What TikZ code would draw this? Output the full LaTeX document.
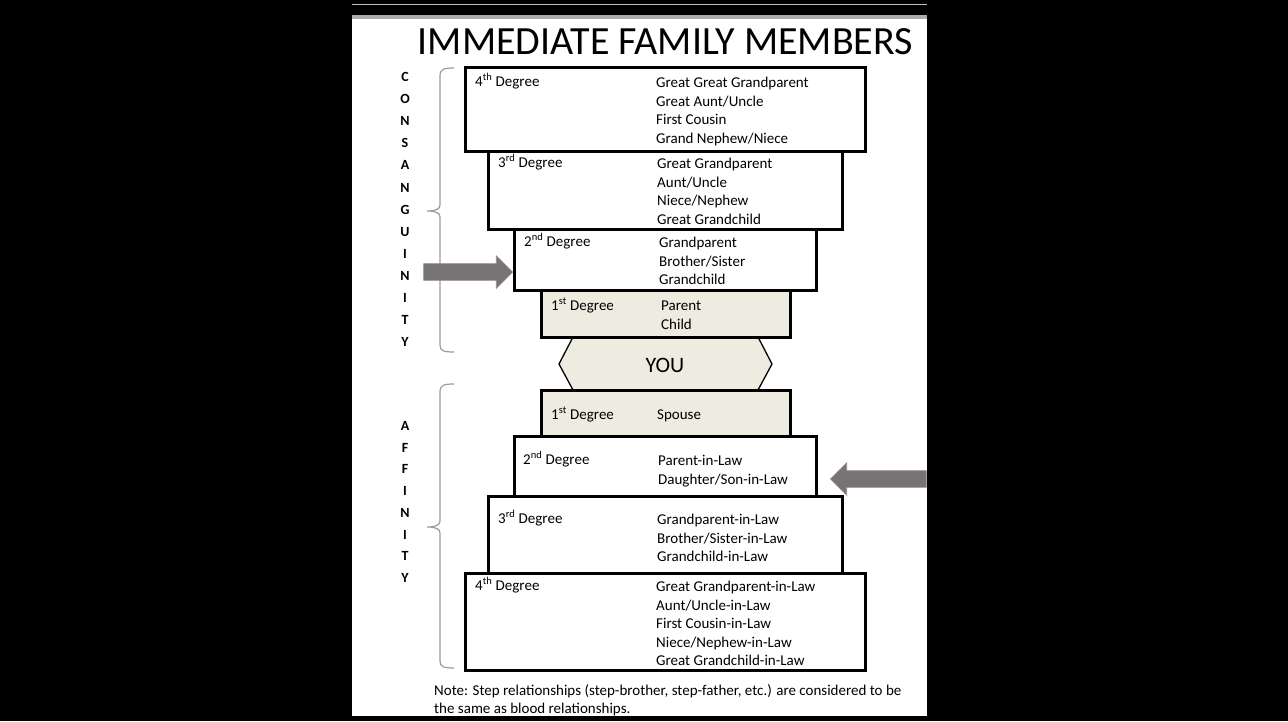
\documentclass[tikz,border=0pt]{standalone}
\usepackage{fontspec}
\setmainfont{Carlito}
\usetikzlibrary{shapes.arrows}

\definecolor{tan}{HTML}{EEECE1}
\definecolor{arrowgray}{HTML}{777373}
\definecolor{bracegray}{HTML}{9C9C9C}

\tikzset{
  deg/.style={draw, line width=3pt, inner sep=0pt},
  lbl/.style={anchor=base west, inner sep=0pt, font=\fontsize{15}{18.5}\selectfont},
  items/.style={anchor=north west, inner sep=0pt, align=left,
    font=\fontsize{15}{18.5}\selectfont, execute at begin node=\strut},
  letter/.style={inner sep=0pt, font=\fontsize{14}{16}\selectfont\bfseries},
  blockarrow/.style={single arrow, fill=arrowgray, draw=arrowgray!80, line width=0.6pt,
    inner sep=8pt, single arrow head extend=8pt, anchor=tip},
  brace/.style={draw=bracegray, line width=1.2pt}
}

\begin{document}
\begin{tikzpicture}[x=1pt,y=-1pt]
        \fill[black] (0,0) rectangle (1288,721);
        \useasboundingbox (0,0) rectangle (1288,721);
        % page
        \draw[gray!50, line width=0.6pt] (352,4) -- (927,4);
        \fill[gray!65] (352,15) rectangle (927,19);
        \fill[white] (352,19) rectangle (927,716);

        \node[font=\fontsize{40}{44}\selectfont] (title) at (665.5,42) {IMMEDIATE FAMILY MEMBERS};

        % YOU
        \filldraw[fill=tan, draw=black, line width=1.3pt]
            (573,337) -- (758,337) -- (772,364) -- (758,390) -- (573,390) -- (559,364) -- cycle;
        \node[font=\fontsize{22}{26}\selectfont] (you) at (665,365) {YOU};

        % consanguinity
        \node[deg, minimum width=400pt, minimum height=84pt] (c4) at (665,109) {};
        \node[deg, minimum width=354pt, minimum height=78pt] (c3) at (665,190) {};
        \node[deg, minimum width=302pt, minimum height=61pt] (c2) at (665,259.5) {};
        \node[deg, fill=tan, minimum width=249pt, minimum height=47pt] (c1) at (665.5,313.5) {};

        % affinity
        \node[deg, fill=tan, minimum width=249pt, minimum height=46pt] (a1) at (665.5,413) {};
        \node[deg, minimum width=302pt, minimum height=60pt] (a2) at (665,466) {};
        \node[deg, minimum width=354pt, minimum height=77pt] (a3) at (665,534.5) {};
        \node[deg, minimum width=400pt, minimum height=97pt] (a4) at (665,621.5) {};

        \node[lbl] (c4l) at (475,86) {4\textsuperscript{th} Degree};
        \node[items] (c4i) at (656,77) {Great Great Grandparent\\Great Aunt/Uncle\\First Cousin\\Grand Nephew/Niece};
        \node[lbl] (c3l) at (498,167) {3\textsuperscript{rd} Degree};
        \node[items] (c3i) at (657,158) {Great Grandparent\\Aunt/Uncle\\Niece/Nephew\\Great Grandchild};
        \node[lbl] (c2l) at (524,246) {2\textsuperscript{nd} Degree};
        \node[items] (c2i) at (659,237) {Grandparent\\Brother/Sister\\Grandchild};
        \node[lbl] (c1l) at (551,310) {1\textsuperscript{st} Degree};
        \node[items] (c1i) at (661,301) {Parent\\Child};

        \node[lbl] (a1l) at (551,419) {1\textsuperscript{st} Degree};
        \node[lbl] (a1i) at (657,419) {Spouse};
        \node[lbl] (a2l) at (523,464) {2\textsuperscript{nd} Degree};
        \node[items] (a2i) at (658,455) {Parent-in-Law\\Daughter/Son-in-Law};
        \node[lbl] (a3l) at (498,523) {3\textsuperscript{rd} Degree};
        \node[items] (a3i) at (657,514) {Grandparent-in-Law\\Brother/Sister-in-Law\\Grandchild-in-Law};
        \node[lbl] (a4l) at (475,590) {4\textsuperscript{th} Degree};
        \node[items] (a4i) at (656,581) {Great Grandparent-in-Law\\Aunt/Uncle-in-Law\\First Cousin-in-Law\\Niece/Nephew-in-Law\\Great Grandchild-in-Law};

        % side words
        \foreach \l [count=\i] in {C,O,N,S,A,N,G,U,I,N,I,T,Y}
            \node[letter] (cons\i) at (405,{77+22.1*(\i-1)}) {\l};
        \foreach \l [count=\i] in {A,F,F,I,N,I,T,Y}
            \node[letter] (aff\i) at (405,{426+21.7*(\i-1)}) {\l};

        % braces
        \draw[brace] (454,68) .. controls (444,68) and (440,69) .. (440,76) -- (440,205)
            .. controls (440,209) and (436,211) .. (427,211)
            .. controls (436,211) and (440,213) .. (440,217) -- (440,345)
            .. controls (440,351) and (444,352) .. (454,352);
        \draw[brace] (454,384) .. controls (444,384) and (440,385) .. (440,392) -- (440,521)
            .. controls (440,525) and (436,527) .. (427,527)
            .. controls (436,527) and (440,529) .. (440,533) -- (440,661)
            .. controls (440,667) and (444,668) .. (454,668);

        % arrows
        \node[blockarrow, minimum height=89pt] (arrowC) at (513,272) {};
        \node[blockarrow, shape border rotate=180, minimum height=96pt] (arrowA) at (830,479) {};

        \node[items] (note) at (434,684) {Note: Step relationships (step-brother, step-father, etc.) are considered to be\\the same as blood relationships.};
\end{tikzpicture}
\end{document}
